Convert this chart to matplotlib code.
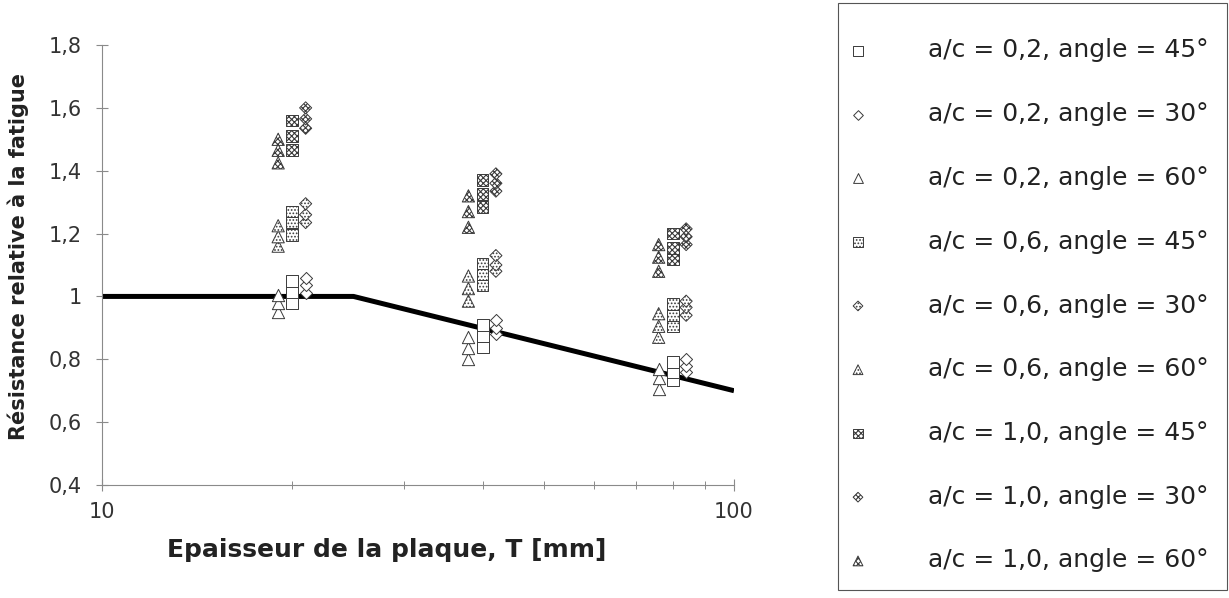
import matplotlib

matplotlib.use("Agg")
import matplotlib.pyplot as plt
from matplotlib.patches import Rectangle
from matplotlib.ticker import FixedLocator, FuncFormatter, NullFormatter

matplotlib.rcParams["font.family"] = "DejaVu Sans"
matplotlib.rcParams["hatch.linewidth"] = 0.8

# Epaisseur des plaques (decalage leger par angle, comme dans le graphique d'origine)
thickness_45 = [20, 20, 20, 40, 40, 40, 80, 80, 80]
thickness_30 = [21, 21, 21, 42, 42, 42, 84, 84, 84]
thickness_60 = [19, 19, 19, 38, 38, 38, 76, 76, 76]

# Resistance relative a la fatigue
ac02_45 = [0.98, 1.015, 1.05, 0.84, 0.875, 0.91, 0.735, 0.76, 0.79]
ac02_30 = [1.01, 1.035, 1.06, 0.88, 0.90, 0.925, 0.76, 0.78, 0.80]
ac02_60 = [0.95, 0.98, 1.005, 0.80, 0.835, 0.87, 0.705, 0.74, 0.77]
ac06_45 = [1.195, 1.235, 1.27, 1.035, 1.07, 1.105, 0.905, 0.94, 0.975]
ac06_30 = [1.235, 1.26, 1.295, 1.08, 1.10, 1.13, 0.94, 0.965, 0.985]
ac06_60 = [1.16, 1.19, 1.225, 0.985, 1.025, 1.065, 0.87, 0.905, 0.945]
ac10_45 = [1.465, 1.51, 1.56, 1.285, 1.325, 1.37, 1.12, 1.155, 1.20]
ac10_30 = [1.535, 1.565, 1.60, 1.335, 1.36, 1.39, 1.165, 1.19, 1.215]
ac10_60 = [1.425, 1.465, 1.50, 1.22, 1.27, 1.32, 1.08, 1.125, 1.165]

# Courbe de correction d'epaisseur
line_thickness = [10, 25, 100]
line_factor = [1.0, 1.0, 0.70]

y_ticks = [0.4, 0.6, 0.8, 1.0, 1.2, 1.4, 1.6, 1.8]
x_major = [10, 100]
x_minor = [20, 30, 40, 50, 60, 70, 80, 90]

SERIES = [
    ("a/c = 0,2, angle = 45°", thickness_45, ac02_45, "s", ""),
    ("a/c = 0,2, angle = 30°", thickness_30, ac02_30, "D", ""),
    ("a/c = 0,2, angle = 60°", thickness_60, ac02_60, "^", ""),
    ("a/c = 0,6, angle = 45°", thickness_45, ac06_45, "s", "....."),
    ("a/c = 0,6, angle = 30°", thickness_30, ac06_30, "D", "....."),
    ("a/c = 0,6, angle = 60°", thickness_60, ac06_60, "^", "....."),
    ("a/c = 1,0, angle = 45°", thickness_45, ac10_45, "s", "xxxxxx"),
    ("a/c = 1,0, angle = 30°", thickness_30, ac10_30, "D", "xxxxxx"),
    ("a/c = 1,0, angle = 60°", thickness_60, ac10_60, "^", "xxxxxx"),
]
MARKER_SIZE = {"s": 72, "D": 38, "^": 78}

W, H = 1229, 598
fig = plt.figure(figsize=(W / 100, H / 100), dpi=100)
ax = fig.add_axes([102 / W, 1 - 485 / H, 632 / W, 440 / H])

ax.plot(line_thickness, line_factor, color="black", linewidth=3.6,
        solid_capstyle="butt", zorder=2)

handles = []
for label, xs, ys, marker, hatch in SERIES:
    h = ax.scatter(xs, ys, marker=marker, s=MARKER_SIZE[marker],
                   facecolor="white", edgecolor="#3a3a3a", linewidths=0.7,
                   hatch=hatch or None, label=label, zorder=3)
    handles.append(h)

ax.set_xscale("log")
ax.set_xlim(10, 100)
ax.set_ylim(0.4, 1.8)
ax.xaxis.set_major_locator(FixedLocator(x_major))
ax.xaxis.set_minor_locator(FixedLocator(x_minor))
ax.xaxis.set_major_formatter(FuncFormatter(lambda v, _: f"{v:g}"))
ax.xaxis.set_minor_formatter(NullFormatter())
ax.yaxis.set_major_locator(FixedLocator(y_ticks))
ax.yaxis.set_major_formatter(FuncFormatter(lambda v, _: f"{v:g}".replace(".", ",")))

for side in ("top", "right"):
    ax.spines[side].set_visible(False)
for side in ("left", "bottom"):
    ax.spines[side].set_color("#8a8a8a")
    ax.spines[side].set_linewidth(0.8)

ax.tick_params(axis="both", which="major", direction="inout", length=9,
               width=0.8, color="#8a8a8a", labelsize=15, labelcolor="#333333")
ax.tick_params(axis="x", which="minor", direction="inout", length=6,
               width=0.7, color="#8a8a8a")
ax.tick_params(axis="y", pad=10)
ax.tick_params(axis="x", pad=8)

ax.set_xlabel("Epaisseur de la plaque, T [mm]", fontsize=18, weight="bold",
              color="#222222")
ax.set_ylabel("Résistance relative à la fatigue", fontsize=15, weight="bold",
              color="#222222")
ax.xaxis.set_label_coords(0.45, -0.12)
ax.yaxis.set_label_coords(-0.115, 0.52)

leg = fig.legend(handles=handles, loc="upper left",
                 bbox_to_anchor=(845.5 / W, 1 - 38.5 / H), frameon=False,
                 fontsize=18, borderpad=0, borderaxespad=0, handlelength=1.0,
                 handletextpad=2.3, labelspacing=1.59, markerscale=0.8,
                 labelcolor="#222222")

fig.add_artist(Rectangle((838 / W, 1 - 590 / H), 389 / W, 587 / H,
                         transform=fig.transFigure, fill=False,
                         edgecolor="#555555", linewidth=0.8))

fig.savefig("out.png", dpi=100)
